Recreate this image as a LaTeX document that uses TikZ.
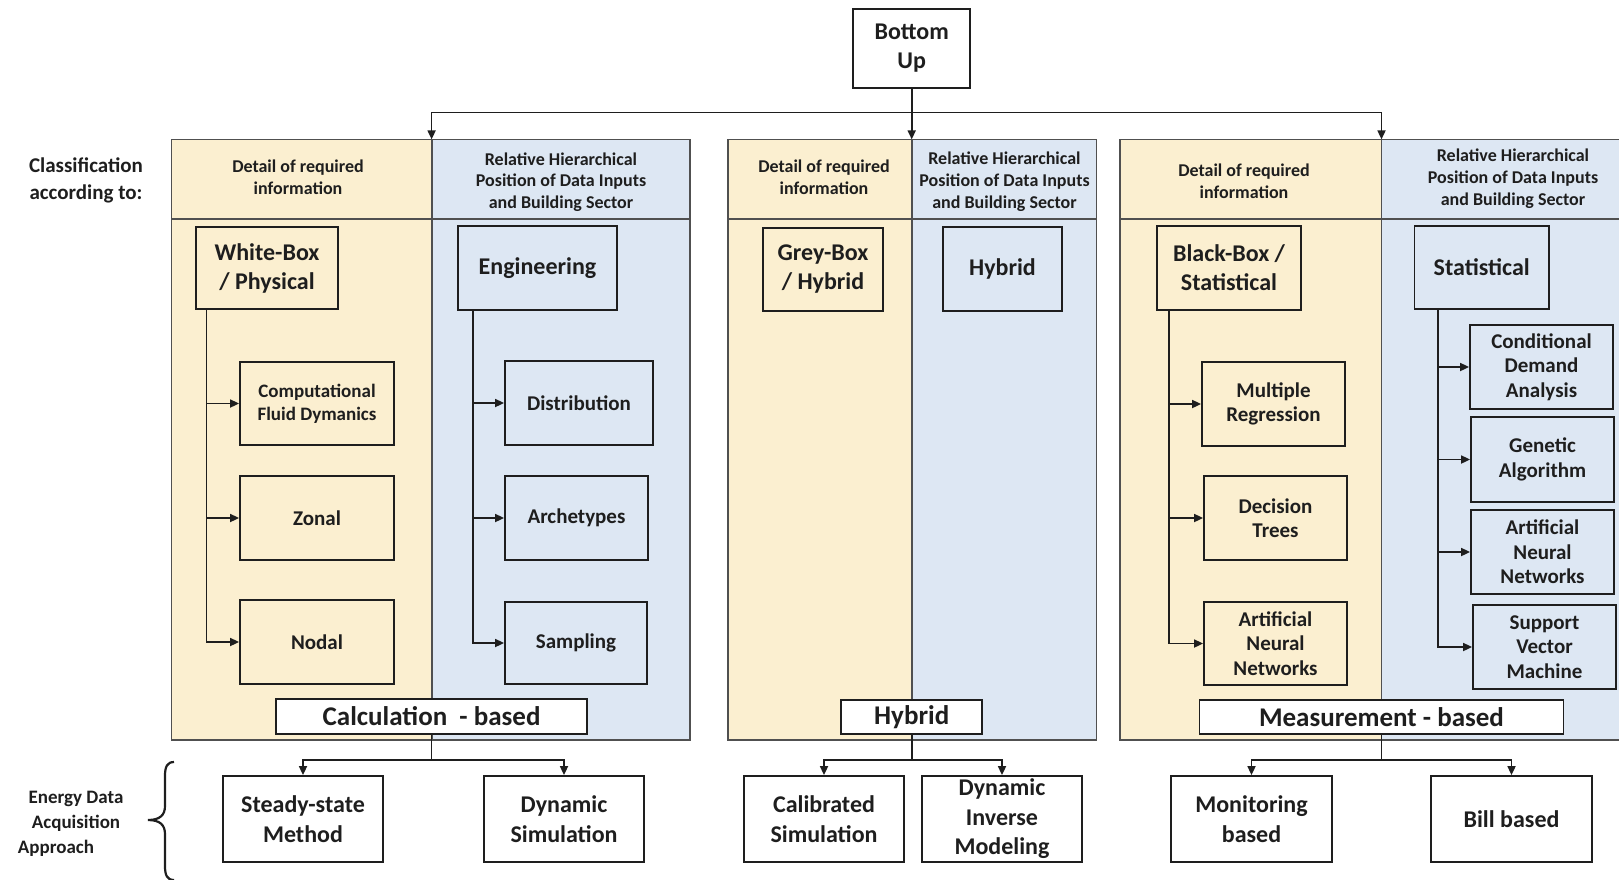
\documentclass[tikz,border=0pt]{standalone}
\usepackage{fontspec}
\setmainfont{Carlito}
\usetikzlibrary{arrows.meta,calc}
\definecolor{ylw}{HTML}{FBEFD0}
\definecolor{blu}{HTML}{DDE7F3}
\definecolor{edge}{HTML}{505050}
\definecolor{ink}{HTML}{1E1E1E}
\newcommand\myfs[2]{\fontsize{#1}{#2}\selectfont}
\begin{document}
\begin{tikzpicture}[x=1pt,y=-1pt,
  bx/.style={draw=ink, line width=1.8pt, inner sep=2pt, align=center, text=ink},
  mainbox/.style={bx, font=\myfs{24}{29}\bfseries},
  kid/.style={bx, font=\myfs{21}{24.5}\bfseries},
  lab/.style={bx, fill=white, font=\myfs{27}{30}\bfseries},
  botbox/.style={bx, fill=white, font=\myfs{24}{29.5}\bfseries},
  hdr/.style={align=center, inner sep=0pt, text=ink, font=\myfs{18}{21.7}\bfseries},
  side/.style={align=center, inner sep=0pt, text=ink, font=\myfs{21}{27}\bfseries},
  pan/.style={draw=edge, line width=1.8pt},
  arr/.style={draw=ink, line width=1.7pt, -{Triangle[length=9pt,width=8pt]}},
  ln/.style={draw=ink, line width=1.7pt}]
\useasboundingbox (0,0) rectangle (1619,879);

% panels
\fill[ylw] (171.4,139.4) rectangle (431.6,740.3);
\fill[blu] (431.6,139.4) rectangle (689.7,740.3);
\draw[pan] (171.4,139.4) rectangle (689.7,740.3);
\draw[pan] (431.6,139.4) -- (431.6,740.3);
\draw[pan] (171.4,218.9) -- (689.7,218.9);

\fill[ylw] (727.9,139.4) rectangle (911.7,740.3);
\fill[blu] (911.7,139.4) rectangle (1096.5,740.3);
\draw[pan] (727.9,139.4) rectangle (1096.5,740.3);
\draw[pan] (911.7,139.4) -- (911.7,740.3);
\draw[pan] (727.9,218.9) -- (1096.5,218.9);

\fill[ylw] (1120.3,139.4) rectangle (1381.5,740.3);
\fill[blu] (1381.5,139.4) rectangle (1630,740.3);
\draw[pan] (1630,139.4) -- (1120.3,139.4) -- (1120.3,740.3) -- (1630,740.3);
\draw[pan] (1381.5,139.4) -- (1381.5,740.3);
\draw[pan] (1120.3,218.9) -- (1630,218.9);

\coordinate (p1) at (431.6,139.4);
\coordinate (p2) at (911.7,139.4);
\coordinate (p3) at (1381.5,139.4);

% top
\node[mainbox, minimum width=117pt, minimum height=79pt, fill=white] (bu) at (911.7,48.5) {Bottom\\Up};

% side texts
\node[side] (cls) at (86,180) {Classification\\according to:};
\node[side, font=\myfs{19}{25}\bfseries] (eda) at (76,824) {Energy Data\\Acquisition\\Approach\hspace*{40pt}};
\draw[ink, line width=2.2pt] (174,762) .. controls (167,762) and (165,767) .. (165,776) -- (165,806)
  .. controls (165,815) and (160,820) .. (148,820)
  .. controls (160,820) and (165,825) .. (165,834) -- (165,866)
  .. controls (165,875) and (167,880) .. (174,880);

% headers
\node[hdr] (h1) at (298,177) {Detail of required\\information};
\node[hdr] (h2) at (561,182) {Relative Hierarchical\\Position of Data Inputs\\and Building Sector};
\node[hdr] (h3) at (824,177) {Detail of required\\information};
\node[hdr] (h4) at (1004.5,181.5) {Relative Hierarchical\\Position of Data Inputs\\and Building Sector};
\node[hdr] (h5) at (1244,181) {Detail of required\\information};
\node[hdr] (h6) at (1513,178.5) {Relative Hierarchical\\Position of Data Inputs\\and Building Sector};

% main boxes
\node[mainbox, minimum width=142pt, minimum height=82pt] (wb) at (267,268) {White-Box\\/ Physical};
\node[mainbox, minimum width=159pt, minimum height=84pt] (eng) at (537.5,268) {Engineering};
\node[mainbox, minimum width=120pt, minimum height=83pt] (gb) at (823,269.5) {Grey-Box\\/ Hybrid};
\node[mainbox, minimum width=119pt, minimum height=84pt] (hyb) at (1002.5,269) {Hybrid};
\node[mainbox, minimum width=144pt, minimum height=84pt] (bb) at (1229,268) {Black-Box /\\Statistical};
\node[mainbox, minimum width=134.5pt, minimum height=83pt] (stat) at (1481.75,267.5) {Statistical};

% children
\node[kid, minimum width=154pt, minimum height=83pt, font=\myfs{19}{23}\bfseries] (cfd) at (317,403.5) {Computational\\Fluid Dymanics};
\node[kid, minimum width=154pt, minimum height=84pt] (zon) at (317,518) {Zonal};
\node[kid, minimum width=154pt, minimum height=84pt] (nod) at (317,642) {Nodal};
\node[kid, minimum width=148pt, minimum height=84pt] (dis) at (579,403) {Distribution};
\node[kid, minimum width=143pt, minimum height=84pt] (arc) at (576.5,518) {Archetypes};
\node[kid, minimum width=142pt, minimum height=82pt] (sam) at (576,643) {Sampling};

\node[kid, minimum width=143pt, minimum height=84pt] (mr) at (1273.5,404) {Multiple\\Regression};
\node[kid, minimum width=143pt, minimum height=84pt] (dt) at (1275.5,518) {Decision\\Trees};
\node[kid, minimum width=143pt, minimum height=83pt] (ann1) at (1275.5,643.5) {Artificial\\Neural\\Networks};
\node[kid, minimum width=143pt, minimum height=84pt] (cda) at (1541.5,367) {Conditional\\Demand\\Analysis};
\node[kid, minimum width=143pt, minimum height=85pt] (ga) at (1542.5,459.5) {Genetic\\Algorithm};
\node[kid, minimum width=143pt, minimum height=84pt] (ann2) at (1542.5,552) {Artificial\\Neural\\Networks};
\node[kid, minimum width=143pt, minimum height=84pt] (svm) at (1544.5,647) {Support\\Vector\\Machine};

% labels
\node[lab, minimum width=311pt, minimum height=35pt] (calc) at (431.6,716.5) {Calculation \ - based};
\node[lab, minimum width=141pt, minimum height=34pt] (hylab) at (911.7,717) {Hybrid};
\node[lab, minimum width=364pt, minimum height=34pt] (meas) at (1381.5,717) {Measurement - based};

% bottom boxes
\node[botbox, minimum width=160pt, minimum height=86pt] (ss) at (303,819) {Steady-state\\Method};
\node[botbox, minimum width=160pt, minimum height=86pt] (dsim) at (564,819) {Dynamic\\Simulation};
\node[botbox, minimum width=160pt, minimum height=86pt] (cal) at (824,819) {Calibrated\\Simulation};
\node[botbox, minimum width=160pt, minimum height=86pt] (dim) at (1002,819) {Dynamic\\Inverse\\Modeling};
\node[botbox, minimum width=161pt, minimum height=86pt] (mon) at (1251.5,819) {Monitoring\\based};
\node[botbox, minimum width=161pt, minimum height=86pt] (bill) at (1511.5,819) {Bill based};

% top connectors
\draw[arr] (bu.south) -- (p2);
\draw[arr] (bu.south) -- ++(0,23.5) -| (p1);
\draw[arr] (bu.south) -- ++(0,23.5) -| (p3);

% trees
\foreach \c in {cfd,zon,nod} \draw[arr] ($(wb.south west)+(11.5,0)$) |- (\c);
\foreach \c in {dis,arc,sam} \draw[arr] ($(eng.south west)+(16,0)$) |- (\c);
\foreach \c in {mr,dt,ann1} \draw[arr] ($(bb.south west)+(13,0)$) |- (\c);
\foreach \c in {cda,ga,ann2,svm} \draw[arr] ($(stat.south west)+(24.5,0)$) |- (\c);

% bottom connectors
\draw[arr] (calc.south) -- ++(0,25) -| (ss.north);
\draw[arr] (calc.south) -- ++(0,25) -| (dsim.north);
\draw[arr] (hylab.south) -- ++(0,25) -| (cal.north);
\draw[arr] (hylab.south) -- ++(0,25) -| (dim.north);
\draw[arr] (meas.south) -- ++(0,25) -| (mon.north);
\draw[arr] (meas.south) -- ++(0,25) -| (bill.north);
\end{tikzpicture}
\end{document}
